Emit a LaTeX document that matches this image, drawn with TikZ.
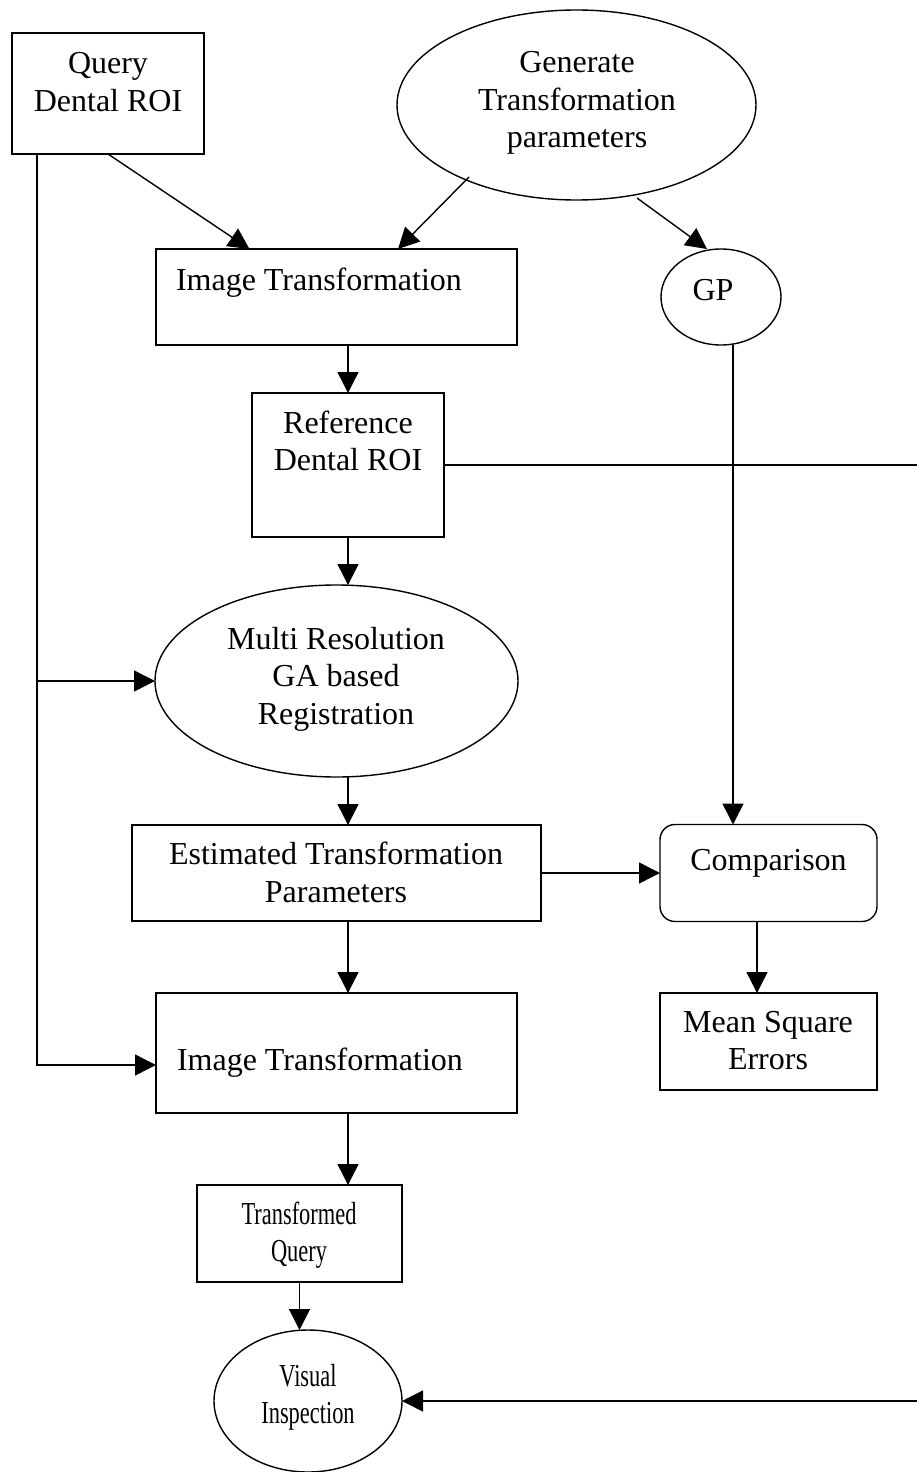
\documentclass[tikz,border=0pt]{standalone}
\usepackage{fontspec}
\setmainfont{Liberation Serif}
\usepackage{graphicx}
\usetikzlibrary{arrows.meta,shapes.geometric,calc}
\tikzset{
  every picture/.style={x=1pt,y=-1pt},
  shp/.style={draw=black,line width=1.4pt,inner sep=0pt,outer sep=0pt},
  boxs/.style={shp,rectangle},
  rbox/.style={shp,rectangle,rounded corners=15pt},
  ell/.style={shp,ellipse},
  txt/.style={inner sep=0pt,outer sep=0pt,align=center,font=\fontsize{32}{37.5}\selectfont,text=black},
  conn/.style={line width=1.4pt,draw=black},
  arr/.style={conn,-{Triangle[length=21pt,width=21pt]}}
}
\newcommand{\sq}[1]{\scalebox{0.7}[1]{\strut #1}}
\begin{document}
\begin{tikzpicture}
\useasboundingbox[fill=white] (0,0) rectangle (917,1472);
% shapes
\node[boxs,minimum width=192pt,minimum height=121pt] (query) at (108,93.5) {};
\node[ell,minimum width=359pt,minimum height=190pt] (gen) at (576.5,105) {};
\node[boxs,minimum width=361pt,minimum height=96pt] (it1) at (336.5,297) {};
\node[ell,minimum width=120pt,minimum height=96pt] (gp) at (721,297) {};
\node[boxs,minimum width=192pt,minimum height=144pt] (ref) at (348,465) {};
\node[ell,minimum width=363pt,minimum height=192pt] (multi) at (336.5,681) {};
\node[boxs,minimum width=409pt,minimum height=96pt] (est) at (336.5,873) {};
\node[rbox,minimum width=217pt,minimum height=97pt] (comp) at (768.5,873) {};
\node[boxs,minimum width=217pt,minimum height=97pt] (mse) at (768.5,1041.5) {};
\node[boxs,minimum width=361pt,minimum height=120pt] (it2) at (336.5,1053) {};
\node[boxs,minimum width=205pt,minimum height=97pt] (tq) at (299.5,1233.5) {};
\node[ell,minimum width=188pt,minimum height=142pt] (vis) at (308,1401) {};
% texts
\node[txt] (tquery) at (108,85) {\strut Query\\\strut Dental ROI};
\node[txt] (tgen) at (577,102.5) {\strut Generate\\\strut Transformation\\\strut parameters};
\node[txt,anchor=base west] (tit1) at (176,290) {Image Transformation};
\node[txt,anchor=base] (tgp) at (713,300) {GP};
\node[txt] (tref) at (348,444.5) {\strut Reference\\\strut Dental ROI};
\node[txt] (tmulti) at (336,679) {\strut Multi Resolution\\\strut GA based\\\strut Registration};
\node[txt] (test) at (336,876) {\strut Estimated Transformation\\\strut Parameters};
\node[txt,anchor=base] (tcomp) at (768.5,870) {Comparison};
\node[txt] (tmse) at (768,1043.5) {\strut Mean Square\\\strut Errors};
\node[txt,anchor=base west] (tit2) at (177,1070) {Image Transformation};
\node[txt] (ttq) at (299,1235.5) {\sq{Transformed}\\\sq{Query}};
\node[txt] (tvis) at (308,1397.5) {\sq{Visual}\\\sq{Inspection}};
% free ends
\coordinate (qb) at (37,681);
\coordinate (refout) at (917,465);
\coordinate (visin) at (917,1401);
% connectors
\draw[arr] (query.south) -- ([xshift=93.5pt]it1.north west);
\draw[arr] ($(gen.center)+(-107.5,72)$) -- ([xshift=242pt]it1.north west);
\draw[arr] ($(gen.center)+(60.5,93)$) -- ([xshift=-14pt]gp.north);
\draw[arr] ([xshift=25pt]query.south west) |- ([yshift=-12pt]it2.west);
\draw[arr] (qb) -- (multi.west);
\draw[arr] (ref.north |- it1.south) -- (ref.north);
\draw[arr] (ref.south) -- (ref.south |- multi.north);
\draw[conn] (ref.east) -- (refout);
\draw[arr] ([xshift=12pt]gp.south) -- ([xshift=12pt]gp.south |- comp.north);
\draw[arr] ([xshift=11.5pt]multi.south) -- ([xshift=11.5pt]est.north);
\draw[arr] (est.east) -- (comp.west);
\draw[arr] ([xshift=-11.5pt]comp.south) -- ([xshift=-11.5pt]mse.north);
\draw[arr] ([xshift=11.5pt]est.south) -- ([xshift=11.5pt]it2.north);
\draw[arr] ([xshift=11.5pt]it2.south) -- ([xshift=11.5pt]it2.south |- tq.north);
\draw[arr] (tq.south) -- (tq.south |- vis.north);
\draw[arr] (visin) -- (vis.east);
\end{tikzpicture}
\end{document}
